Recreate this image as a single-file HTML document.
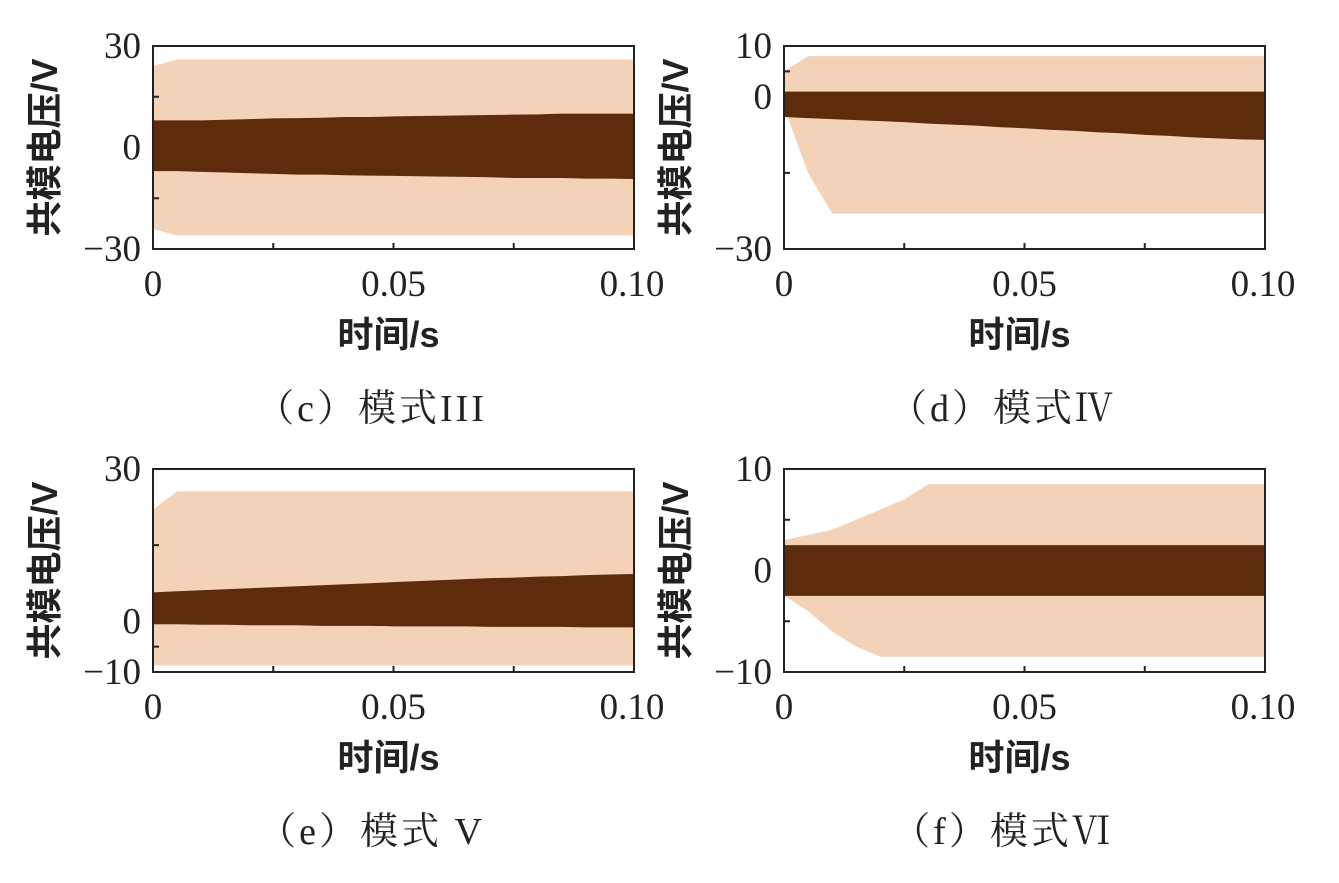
<!DOCTYPE html>
<html><head><meta charset="utf-8"><style>
body{margin:0;background:#fff;}
svg text{font-family:"Liberation Serif","Noto Serif CJK SC",serif;fill:#222;}
.cjk{font-family:"Liberation Sans","Noto Sans CJK SC",sans-serif;font-weight:bold;}
</style></head><body>
<svg id="fig" width="1339" height="878" xmlns="http://www.w3.org/2000/svg"></svg>
<script>
const times=[0,0.005,0.01,0.015,0.02,0.025,0.03,0.035,0.04,0.045,0.05,0.055,0.06,0.065,0.07,0.075,0.08,0.085,0.09,0.095,0.1];
const xTicks=[0,0.05,0.1];
const xTickLabels=["0","0.05","0.10"];
// panel c
const cLightUp=[24,26,26,26,26,26,26,26,26,26,26,26,26,26,26,26,26,26,26,26,26];
const cLightLo=[-24,-26,-26,-26,-26,-26,-26,-26,-26,-26,-26,-26,-26,-26,-26,-26,-26,-26,-26,-26,-26];
const cDarkUp=[8,8,8,8.2,8.4,8.6,8.7,8.8,9,9,9.2,9.3,9.4,9.5,9.6,9.7,9.8,10,10,10,10];
const cDarkLo=[-7,-7,-7.2,-7.4,-7.6,-7.8,-8,-8,-8.2,-8.3,-8.4,-8.5,-8.6,-8.7,-8.8,-9,-9,-9,-9.2,-9.2,-9.3];
const cTicks=[-30,0,30];
// panel d
const dLightUp=[5,8,8,8,8,8,8,8,8,8,8,8,8,8,8,8,8,8,8,8,8];
const dLightLo=[-2,-15,-23,-23,-23,-23,-23,-23,-23,-23,-23,-23,-23,-23,-23,-23,-23,-23,-23,-23,-23];
const dDarkUp=[1,1,1,1,1,1,1,1,1,1,1,1,1,1,1,1,1,1,1,1,1];
const dDarkLo=[-4,-4.2,-4.4,-4.6,-4.8,-5,-5.3,-5.5,-5.7,-6,-6.2,-6.5,-6.7,-7,-7.2,-7.5,-7.7,-8,-8.2,-8.4,-8.5];
const dTicks=[-30,0,10];
// panel e
const eLightUp=[22,25.6,25.6,25.6,25.6,25.6,25.6,25.6,25.6,25.6,25.6,25.6,25.6,25.6,25.6,25.6,25.6,25.6,25.6,25.6,25.6];
const eLightLo=[-8.7,-8.7,-8.7,-8.7,-8.7,-8.7,-8.7,-8.7,-8.7,-8.7,-8.7,-8.7,-8.7,-8.7,-8.7,-8.7,-8.7,-8.7,-8.7,-8.7,-8.7];
const eDarkUp=[5.7,5.9,6.1,6.3,6.5,6.7,6.9,7.1,7.3,7.5,7.7,7.9,8.1,8.3,8.5,8.6,8.8,8.9,9.1,9.2,9.3];
const eDarkLo=[-0.6,-0.6,-0.7,-0.7,-0.8,-0.8,-0.8,-0.9,-0.9,-0.9,-1,-1,-1,-1,-1.1,-1.1,-1.1,-1.1,-1.2,-1.2,-1.2];
const eTicks=[-10,0,30];
// panel f
const fLightUp=[3,3.5,4,5,6,7,8.5,8.5,8.5,8.5,8.5,8.5,8.5,8.5,8.5,8.5,8.5,8.5,8.5,8.5,8.5];
const fLightLo=[-2.5,-4,-6,-7.5,-8.5,-8.5,-8.5,-8.5,-8.5,-8.5,-8.5,-8.5,-8.5,-8.5,-8.5,-8.5,-8.5,-8.5,-8.5,-8.5,-8.5];
const fDarkUp=[2.5,2.5,2.5,2.5,2.5,2.5,2.5,2.5,2.5,2.5,2.5,2.5,2.5,2.5,2.5,2.5,2.5,2.5,2.5,2.5,2.5];
const fDarkLo=[-2.5,-2.5,-2.5,-2.5,-2.5,-2.5,-2.5,-2.5,-2.5,-2.5,-2.5,-2.5,-2.5,-2.5,-2.5,-2.5,-2.5,-2.5,-2.5,-2.5,-2.5];
const fTicks=[-10,0,10];

const NS="http://www.w3.org/2000/svg";
const svg=document.getElementById('fig');
function mk(tag,attrs,parent){const e=document.createElementNS(NS,tag);for(const k in attrs)e.setAttribute(k,attrs[k]);(parent||svg).appendChild(e);return e;}

function panel(id,x0,y0,x1,y1,ymin,ymax,yt,lu,ll,du,dl,caption){
  const g=mk('g',{});
  
  
  const xs=t=>x0+(t-0)/(0.1)*(x1-x0);
  const ys=v=>y1-(v-ymin)/(ymax-ymin)*(y1-y0);
  function band(up,lo,color,name){
    let pts=[];
    times.forEach((t,i)=>pts.push(xs(t)+','+ys(up[i])));
    for(let i=times.length-1;i>=0;i--)pts.push(xs(times[i])+','+ys(lo[i]));
    const p=mk('polygon',{points:pts.join(' '),fill:color},g);
    
    
  }
  band(lu,ll,'#f4d2b8','light-series-'+id);
  band(du,dl,'#5e2c0c','dark-series-'+id);
  const box=mk('rect',{x:x0,y:y0,width:x1-x0,height:y1-y0,fill:'none',stroke:'#222','stroke-width':2},g);
  
  
  [0.025,0.05,0.075].forEach(t=>mk('line',{x1:xs(t),x2:xs(t),y1:y1,y2:y1-6,stroke:'#222','stroke-width':2},g));
  xTicks.forEach((t,i)=>{
    const tx=mk('text',{x:xs(t)+(i==2?-2:0),y:y1+47,'font-size':37,'text-anchor':'middle'},g);
    tx.textContent=xTickLabels[i];
    
    
  });
  const mid=[(yt[0]+yt[1])/2,(yt[1]+yt[2])/2];
  mid.forEach(v=>mk('line',{x1:x0,x2:x0+6,y1:ys(v),y2:ys(v),stroke:'#222','stroke-width':2},g));
  yt.forEach(v=>{
    const tx=mk('text',{x:x0-12,y:ys(v)+12,'font-size':37,'text-anchor':'end'},g);
    tx.textContent=v<0?'\u2212'+(-v):String(v);
    
    
  });
  const cx=(x0+x1)/2;
  const xl=mk('text',{x:cx-5,y:y1+98,'font-size':36,'text-anchor':'middle',class:'cjk'},g);
  xl.textContent='时间/s';
  
  
  const yc=(y0+y1)/2;
  const yl=mk('text',{x:0,y:0,'font-size':36,'text-anchor':'middle',class:'cjk',transform:'translate('+(x0-96)+','+yc+') rotate(-90)'},g);
  yl.textContent='共模电压/V';
  
  
  const cp=mk('text',{x:cx-22,y:y1+172,'font-size':38,'text-anchor':'middle','letter-spacing':3},g);
  cp.textContent=caption;
  
  
}
panel('c',153,46,634,249,-30,30,cTicks,cLightUp,cLightLo,cDarkUp,cDarkLo,'（c）模式III');
panel('d',784,46,1265,249,-30,10,dTicks,dLightUp,dLightLo,dDarkUp,dDarkLo,'（d）模式Ⅳ');
panel('e',153,469,634,672,-10,30,eTicks,eLightUp,eLightLo,eDarkUp,eDarkLo,'（e）模式 V');
panel('f',784,469,1265,672,-10,10,fTicks,fLightUp,fLightLo,fDarkUp,fDarkLo,'（f）模式Ⅵ');
</script>
</body></html>
